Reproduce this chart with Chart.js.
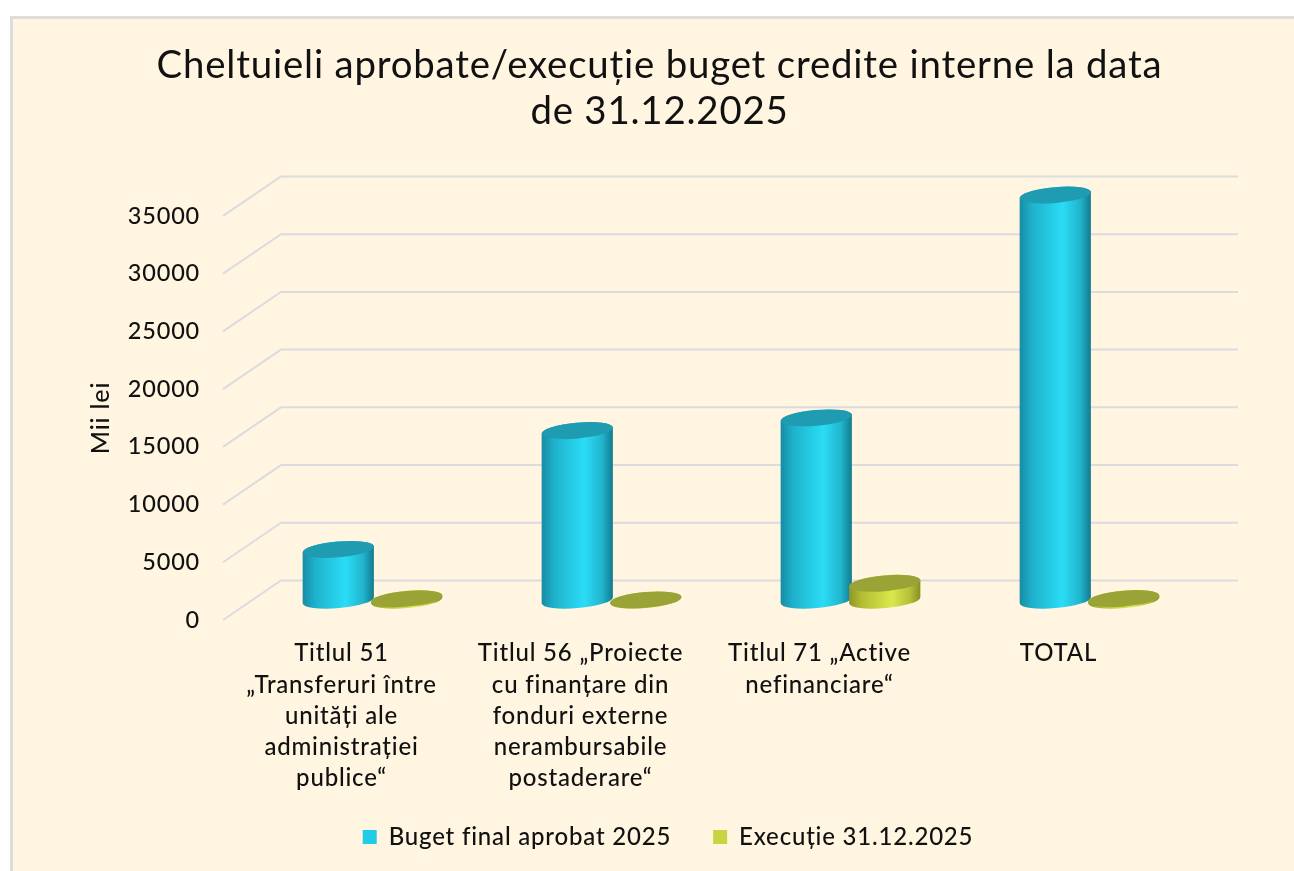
<!DOCTYPE html>
<html>
<head>
<meta charset="utf-8">
<script src="https://cdn.jsdelivr.net/npm/chart.js@4"></script>
<style>
html,body{margin:0;padding:0;background:#fff;}
#panel{position:absolute;left:10px;top:16px;right:0;bottom:0;background:#fff5e1;border:3px solid #dcdcdc;border-right:none;border-bottom:none;}
canvas{position:absolute;left:0;top:0;filter:blur(0.5px);}
</style>
</head>
<body>
<div id="panel"></div>
<canvas id="c" width="1294" height="871"></canvas>
<script>
const titleLines = ["Cheltuieli aprobate/execuție buget credite interne la data", "de 31.12.2025"];
const categories = [
  ["Titlul 51", "„Transferuri între", "unități ale", "administrației", "publice“"],
  ["Titlul 56 „Proiecte", "cu finanțare din", "fonduri externe", "nerambursabile", "postaderare“"],
  ["Titlul 71 „Active", "nefinanciare“"],
  ["TOTAL"]
];
const bugetFinal = [4400, 14700, 15800, 35100];
const executie = [130, 30, 1470, 150];
const seriesNames = ["Buget final aprobat 2025", "Execuție 31.12.2025"];
const axisTitle = "Mii lei";

const FONT = "Lato, Carlito, sans-serif";
const INK = "#111111";
const palettes = [
  {stops:["#188ba4","#1fb2cc","#2bdcf6","#21b4cc","#117a8e"], top:"#1f9cb2"},
  {stops:["#8e9628","#b3bd35","#dbe84c","#b5c037","#878f25"], top:"#9aa436"}
];
const DEPTH_X = 59, DEPTH_Y = 39.5, BAR_SHIFT = 31;
const TILT = -5 * Math.PI / 180, RY = 7.9;

function cylinder(ctx, cx, yTop, yBase, w, p) {
  const rx = w / 2;
  const g = ctx.createLinearGradient(cx - rx, 0, cx + rx, 0);
  [0, 0.18, 0.6, 0.85, 1].forEach((s, i) => g.addColorStop(s, p.stops[i]));
  ctx.beginPath();
  ctx.ellipse(cx, yBase, rx, RY, TILT, 0, Math.PI);
  ctx.ellipse(cx, yTop, rx, RY, TILT, Math.PI, 2 * Math.PI);
  ctx.closePath();
  ctx.fillStyle = g;
  ctx.fill();
  ctx.beginPath();
  ctx.ellipse(cx, yTop, rx, RY, TILT, 0, 2 * Math.PI);
  ctx.fillStyle = p.top;
  ctx.fill();
}

const scene3d = {
  id: "scene3d",
  beforeUpdate(chart) { chart.ctx.letterSpacing = "0.8px"; },
  beforeDraw(chart) { chart.ctx.letterSpacing = "0.8px"; },
  afterLayout(chart) {
    chart.titleBlock.left += 141;
    chart.legend.left += 158;
    chart.legend.top -= 32;
  },
  beforeDatasetsDraw(chart) {
    const ctx = chart.ctx, {left, right} = chart.chartArea, y = chart.scales.y;
    ctx.save();
    ctx.strokeStyle = "#dcdcdf";
    ctx.lineWidth = 2;
    y.ticks.forEach(t => {
      const py = y.getPixelForValue(t.value);
      ctx.beginPath();
      ctx.moveTo(left + 1, py);
      ctx.lineTo(left + DEPTH_X, py - DEPTH_Y);
      ctx.lineTo(right + DEPTH_X + 1, py - DEPTH_Y);
      ctx.stroke();
    });
    const n = chart.data.labels.length;
    for (let i = 0; i < n; i++) {
      chart.data.datasets.forEach((ds, d) => {
        const el = chart.getDatasetMeta(d).data[i];
        cylinder(ctx, el.x + BAR_SHIFT, el.y - DEPTH_Y / 2, el.base - DEPTH_Y / 2, el.width, palettes[d]);
      });
    }
    ctx.restore();
    return false;
  }
};

new Chart(document.getElementById("c"), {
  type: "bar",
  data: {
    labels: categories,
    datasets: [
      {label: seriesNames[0], data: bugetFinal, backgroundColor: "#22cbe6", categoryPercentage: 0.573, barPercentage: 1.044},
      {label: seriesNames[1], data: executie, backgroundColor: "#c9d540", categoryPercentage: 0.573, barPercentage: 1.044}
    ]
  },
  plugins: [scene3d],
  options: {
    responsive: false,
    animation: false,
    layout: {padding: {left: 0, right: 116, top: 0, bottom: 0}},
    plugins: {
      tooltip: {enabled: false},
      title: {
        display: true,
        text: titleLines,
        color: INK,
        font: {family: FONT, size: 38.4, weight: "normal", lineHeight: 1.21},
        padding: {top: 42, bottom: 81}
      },
      legend: {
        position: "bottom",
        maxHeight: 56,
        labels: {
          color: INK,
          font: {family: FONT, size: 24, weight: "500"},
          boxWidth: 14, boxHeight: 14,
          padding: 42
        }
      }
    },
    scales: {
      x: {
        grid: {display: false},
        border: {display: false},
        afterFit(s) { s.height = 195; },
        ticks: {
          autoSkip: false, maxRotation: 0, minRotation: 0, padding: 10,
          color: INK,
          font: {family: FONT, size: 24, weight: "500", lineHeight: 1.302}
        }
      },
      y: {
        min: 0, max: 35000,
        grid: {display: false},
        border: {display: false},
        afterFit(s) { s.width = 222; },
        title: {
          display: true, text: axisTitle, color: INK,
          font: {family: FONT, size: 25, weight: "500"},
          padding: {top: 86, bottom: 0}
        },
        ticks: {
          stepSize: 5000, padding: 14,
          color: INK,
          font: {family: FONT, size: 23.5, weight: "500"},
          callback: v => String(v)
        }
      }
    }
  }
});
</script>
</body>
</html>
